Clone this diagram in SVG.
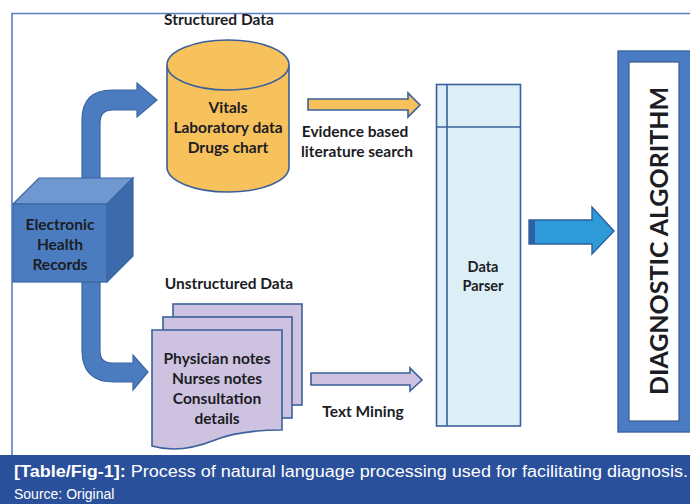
<svg xmlns="http://www.w3.org/2000/svg" width="690" height="504" viewBox="0 0 690 504">
<defs>
<style>
.lbl{font-family:Lato,"Open Sans","Liberation Sans",sans-serif;font-weight:bold;font-size:15.5px;fill:#1c1c24;text-anchor:middle}
.sm{font-size:14.5px}
.cap{font-family:"Liberation Sans",Arial,sans-serif;fill:#ffffff}
.stroke{stroke:#3b609a;stroke-width:1.6}
</style>
</defs>
<rect x="0" y="0" width="690" height="504" fill="#ffffff"/>
<!-- frame -->
<path d="M12,455 L12,13.5 L690,13.5" fill="none" stroke="#5a7fc0" stroke-width="1.6"/>

<g id="connectors">
  <path id="arrow-ehr-structured" d="M82,180 L82,120 Q82,90 112,90 L137,90 L137,83 L157,100 L137,117 L137,110 L113,110 Q100,110 100,123 L100,180 Z" fill="#4a7cbf" stroke="#3a66a3" stroke-width="1.2"/>
  <path id="arrow-ehr-unstructured" d="M82,282 L82,350 Q82,382 114,382 L133,382 L133,390 L148,372 L133,355 L133,363 L112,363 Q100,363 100,351 L100,282 Z" fill="#4a7cbf" stroke="#3a66a3" stroke-width="1.2"/>
  <path id="arrow-structured-parser" d="M308,99 L408,99 L408,93 L420,105 L408,117 L408,110 L308,110 Z" fill="#f7c15c" class="stroke"/>
  <path id="arrow-unstructured-parser" d="M311,373 L410,373 L410,368 L422,380 L410,391 L410,385 L311,385 Z" fill="#cdc3e0" class="stroke"/>
  <g id="arrow-parser-algorithm">
    <path d="M529,220 L592,220 L592,207 L614,231 L592,254 L592,244 L529,244 Z" fill="#2e9ad8" stroke="#2f5f9f" stroke-width="1.4"/>
    <rect x="529" y="220" width="6" height="24" fill="#2f5fa8"/>
  </g>
</g>

<g id="ehr">
  <polygon points="13,204 39,178 133,178 107,204" fill="#6f98d0" stroke="#3a66a3" stroke-width="1.2"/>
  <polygon points="107,204 133,178 133,256 107,282" fill="#3d6aab" stroke="#3a66a3" stroke-width="1.2"/>
  <rect x="13" y="204" width="94" height="78" fill="#4b7cc0" stroke="#3a66a3" stroke-width="1.2"/>
  <text class="lbl" x="60" y="230">Electronic</text>
  <text class="lbl" x="60" y="250">Health</text>
  <text class="lbl" x="60" y="270">Records</text>
</g>

<g id="structured">
  <text class="lbl" x="219" y="25">Structured Data</text>
  <path d="M167,65 L167,167 A61,25 0 0 0 289,167 L289,65" fill="#f7c15c" class="stroke"/>
  <ellipse cx="228" cy="65" rx="61" ry="25" fill="#f7c15c" class="stroke"/>
  <text class="lbl" x="228" y="113">Vitals</text>
  <text class="lbl" x="228" y="133">Laboratory data</text>
  <text class="lbl" x="228" y="153">Drugs chart</text>
</g>

<g id="evidence-label">
  <text class="lbl" x="355" y="137">Evidence based</text>
  <text class="lbl" x="357" y="157">literature search</text>
</g>

<g id="unstructured">
  <text class="lbl" x="229" y="289">Unstructured Data</text>
  <rect x="173" y="304" width="129" height="101" fill="#cdc3e0" class="stroke"/>
  <rect x="163" y="317" width="129" height="101" fill="#cdc3e0" class="stroke"/>
  <path d="M152,330 L282,330 L282,430 C258,430 235,432 215,440 C195,448 172,452 152,446 Z" fill="#cdc3e0" class="stroke"/>
  <text class="lbl" x="217" y="364">Physician notes</text>
  <text class="lbl" x="217" y="384">Nurses notes</text>
  <text class="lbl" x="217" y="404">Consultation</text>
  <text class="lbl" x="217" y="424">details</text>
</g>

<g id="text-mining-label">
  <text class="lbl" x="363" y="417">Text Mining</text>
</g>

<g id="parser">
  <rect x="436.5" y="84.5" width="84" height="341.5" fill="#dceef6" class="stroke"/>
  <line x1="447" y1="84.5" x2="447" y2="426" class="stroke"/>
  <line x1="436.5" y1="127" x2="520.5" y2="127" class="stroke"/>
  <text class="lbl sm" x="483" y="272">Data</text>
  <text class="lbl sm" x="483" y="291">Parser</text>
</g>

<g id="algorithm">
  <rect x="618" y="51" width="80" height="381" fill="#4a7cc4" stroke="#3a64a0" stroke-width="1.4"/>
  <rect x="629" y="62" width="50" height="359" fill="#ffffff" stroke="#3a5a8a" stroke-width="1.2"/>
  <text class="lbl" style="font-size:25px" transform="translate(668,241) rotate(-90)" textLength="308" lengthAdjust="spacingAndGlyphs">DIAGNOSTIC ALGORITHM</text>
</g>

<g id="caption">
  <rect x="0" y="455" width="690" height="49" fill="#2a4f9b"/>
  <text class="cap" x="14" y="477" font-size="16" textLength="674" lengthAdjust="spacingAndGlyphs"><tspan font-weight="bold">[Table/Fig-1]:</tspan> Process of natural language processing used for facilitating diagnosis.</text>
  <text class="cap" x="14" y="499" font-size="14">Source: Original</text>
</g>
</svg>
